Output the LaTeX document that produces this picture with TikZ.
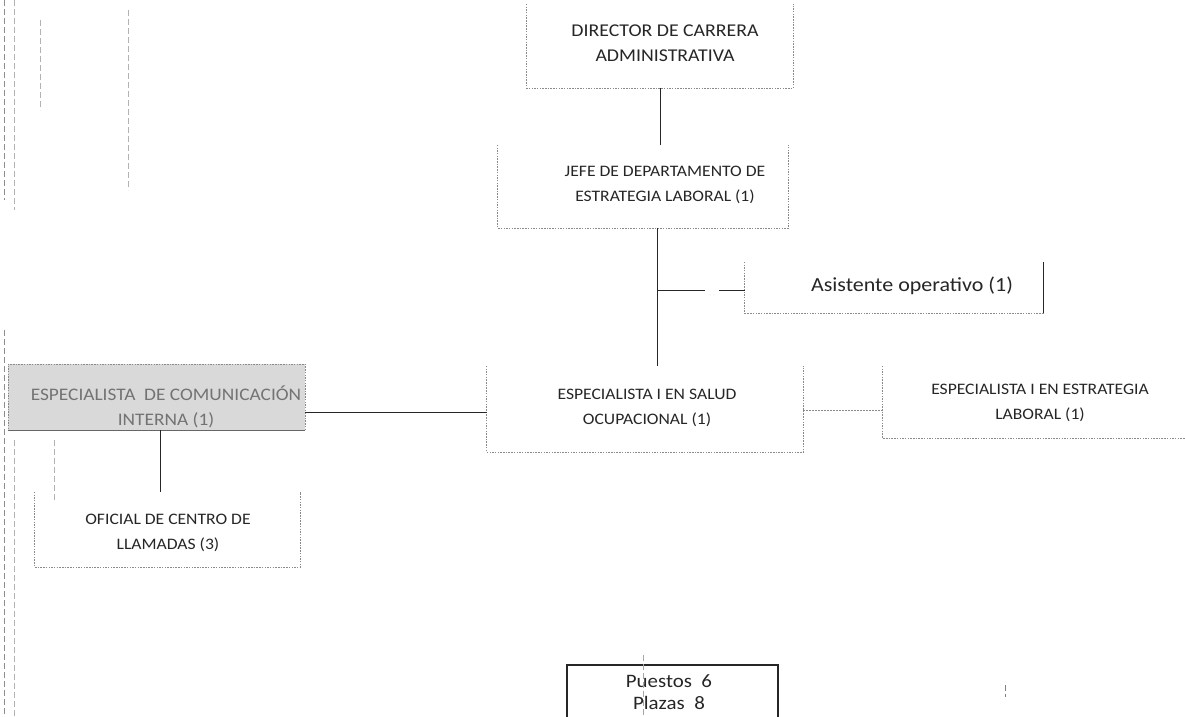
\documentclass[tikz,border=0pt]{standalone}
\usepackage{fontspec}
\setmainfont[FakeStretch=1.1]{Carlito}
\definecolor{ink}{HTML}{262626}
\definecolor{rule}{HTML}{8A8A8A}
\definecolor{greyfill}{HTML}{D9D9D9}
\tikzset{
  frame/.style={inner sep=0pt, draw=none},
  side/.style={draw=rule, line width=0.9pt, dash pattern=on 1.5pt off 1.2pt},
  lbl/.style={align=center, text=ink, inner sep=0pt, font=\fontsize{16}{24.5}\selectfont},
  biglbl/.style={lbl, font=\fontsize{18}{25}\selectfont},
  link/.style={draw=ink, line width=0.9pt},
  softlink/.style={draw=rule, line width=0.9pt, dash pattern=on 2pt off 1pt},
  scan/.style={draw=black!45, line width=0.6pt, dash pattern=on 6pt off 3pt},
}
% open frame: left, bottom and right sides of a box
\newcommand\opensides[1]{\draw[side] (#1.north west) -- (#1.south west) -- (#1.south east) -- (#1.north east);}
\begin{document}
\begin{tikzpicture}[x=1pt,y=-1pt]
\useasboundingbox (0,0) rectangle (1185,716);

% ---- frames ----
\node[frame, minimum width=266pt, minimum height=84pt] (dir)   at (660,46) {};
\node[frame, minimum width=290pt, minimum height=83pt] (jefe)  at (643,186.5) {};
\node[frame, minimum width=298pt, minimum height=51pt] (asis)  at (894,287.5) {};
\node[frame, minimum width=316pt, minimum height=86pt] (salud) at (645,409) {};
\node[frame, minimum width=310pt, minimum height=72pt] (estr)  at (1038,402) {};
\node[frame, minimum width=297pt, minimum height=66pt, fill=greyfill, draw=rule,
      line width=0.9pt, dash pattern=on 1.5pt off 1.2pt] (comm) at (156.5,397) {};
\node[frame, minimum width=265pt, minimum height=75pt] (ofic)  at (167.5,529.5) {};
\node[frame, minimum width=211pt, minimum height=54pt, draw=ink, line width=1.3pt] (tot) at (672.5,692) {};

\opensides{dir}
\opensides{jefe}
\opensides{asis}
\opensides{salud}
\opensides{ofic}
\draw[side] (estr.north west) -- (estr.south west) -- (estr.south east);
\draw[draw=ink, line width=0.9pt] (asis.north east) -- (asis.south east);
\draw[draw=black!60, line width=1.2pt] (comm.south west) -- (comm.south east);

% ---- labels ----
\node[biglbl] (tdir)   at (665,43)    {DIRECTOR DE CARRERA\\ADMINISTRATIVA};
\node[lbl]    (tjefe)  at (665,185)   {JEFE DE DEPARTAMENTO DE\\ESTRATEGIA LABORAL (1)};
\node[lbl, font=\fontsize{20}{25}\selectfont] (tasis) at (912,286) {Asistente operativo (1)};
\node[lbl]    (tsalud) at (647,408)   {ESPECIALISTA I EN SALUD\\OCUPACIONAL (1)};
\node[lbl]    (testr)  at (1040,403)  {ESPECIALISTA I EN ESTRATEGIA\\LABORAL (1)};
\node[lbl, text=black!55, font=\fontsize{17.6}{25}\selectfont] (tcomm) at (166,407)
      {ESPECIALISTA \ DE COMUNICACIÓN\\INTERNA (1)};
\node[lbl]    (tofic)  at (168,533)   {OFICIAL DE CENTRO DE\\LLAMADAS (3)};
\node[lbl, font=\fontsize{19}{22.5}\selectfont] (ttot) at (669,692) {Puestos \ 6\\Plazas \ 8};

% ---- connectors ----
\draw[link] (dir.south) -- (dir.south |- jefe.north);
\draw[link] ([xshift=14pt]jefe.south) -- ([xshift=12pt]salud.north);
\coordinate (br) at ([xshift=14pt]jefe.south |- 0,290);
\draw[link, dash pattern=on 48pt off 14pt] (br) -- (br -| asis.west);
\draw[link] ([yshift=-15pt]comm.east) -- ([yshift=-15pt]comm.east -| salud.west);
\draw[softlink] ([yshift=-1pt]salud.east) -- ([yshift=-1pt]salud.east -| estr.west);
\draw[link] ([xshift=3.5pt]comm.south) -- ([xshift=3.5pt]comm.south |- ofic.north);

% ---- faint scan marks along the margin ----
\draw[scan] (4,0) -- (4,200);
\draw[scan] (4,330) -- (4,716);
\draw[scan, draw=black!30] (14,0) -- (14,210);
\draw[scan, draw=black!30] (14,440) -- (14,716);
\draw[scan, draw=black!30] (40,20) -- (40,110);
\draw[scan, draw=black!30] (54,440) -- (54,500);
\draw[scan, draw=black!30] (128,10) -- (128,190);
\draw[scan, draw=black!35] (643,655) -- (643,716);
\draw[scan, draw=black!50] (1005,685) -- (1005,697);
\end{tikzpicture}
\end{document}
